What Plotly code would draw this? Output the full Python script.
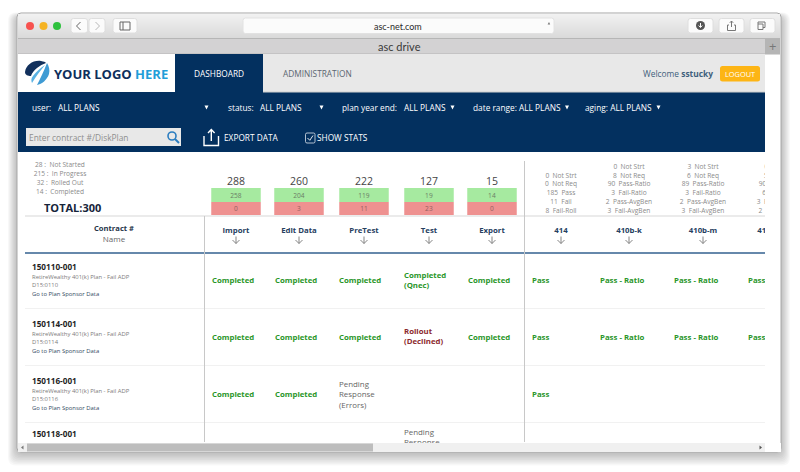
import plotly.graph_objects as go

FONT = "Open Sans"
NAVY = "#03305f"
GREEN = "#2a962a"
RED = "#8c2a2e"
GREY = "#8a8a8a"

# summary block
summary_counts = ["28 :", "215 :", "32 :", "14 :"]
summary_labels = ["Not Started", "In Progress", "Rolled Out", "Completed"]

# workflow steps
steps = ["Import", "Edit Data", "PreTest", "Test", "Export"]
step_totals = [288, 260, 222, 127, 15]
step_pass = [258, 204, 119, 19, 14]
step_fail = [0, 3, 11, 23, 0]

# compliance tests
tests = ["414", "410b-k", "410b-m", "410b-o"]
test_stats = [
    ["0  Not Strt", "0  Not Req", "185  Pass", "11  Fail", "8  Fail-Roll"],
    ["0  Not Strt", "8  Not Req", "90  Pass-Ratio", "3  Fail-Ratio", "2  Pass-AvgBen", "3  Fail-AvgBen"],
    ["3  Not Strt", "6  Not Req", "89  Pass-Ratio", "3  Fail-Ratio", "2  Pass-AvgBen", "3  Fail-AvgBen"],
    ["0  Not Strt", "5  Not Req", "90  Pass-Ratio", "6  Fail-Ratio", "3  Pass-AvgBen", "2  Fail-AvgBen"],
]

# table rows
contracts = ["150110-001", "150114-001", "150116-001", "150118-001"]
disk_plans = ["D15:0110", "D15:0114", "D15:0116"]
plan_name = "RetireWealthy 401(k) Plan - Fail ADP"
C = "Completed"
PE = "Pending<br>Response<br>(Errors)"
step_status = [
    [C, C, C, "Completed<br>(Qnec)", C],
    [C, C, C, "Rollout<br>(Declined)", C],
    [C, C, PE, "", ""],
    ["", "", "", PE, ""],
]
test_status = [
    ["Pass", "Pass - Ratio", "Pass - Ratio", "Pass - Ratio"],
    ["Pass", "Pass - Ratio", "Pass - Ratio", "Pass - Ratio"],
    ["Pass", "", "", ""],
    ["", "", "", ""],
]

# layout, in screen pixels
step_centers = [236, 299, 364, 429, 492]
step_lefts = [212, 275, 339, 404, 468]
test_centers = [561, 629, 703, 780]
test_heads = [561, 629, 703, 770]
test_lefts = [532, 600, 674, 748]
row_tops = [268, 325, 382, 435]
row_mids = [281, 338, 395, 443]

fig = go.Figure()
# keeps the full-window axes alive, all the chrome shapes hang off them
fig.add_trace(go.Scatter(x=[], y=[], hoverinfo="skip", showlegend=False))
shapes = []
notes = []


def rect(x0, y0, x1, y1, color, line=None):
    shapes.append(dict(type="rect", x0=x0, y0=y0, x1=x1, y1=y1, fillcolor=color, layer="below",
                       line=dict(color=line or color, width=1 if line else 0)))


def hline(x0, x1, y, color, width=1):
    shapes.append(dict(type="line", x0=x0, x1=x1, y0=y, y1=y, layer="below", line=dict(color=color, width=width)))


def vline(x, y0, y1, color, width=1):
    shapes.append(dict(type="line", x0=x, x1=x, y0=y0, y1=y1, layer="below", line=dict(color=color, width=width)))


def path(d, fill="rgba(0,0,0,0)", line=None, width=1):
    shapes.append(dict(type="path", path=d, fillcolor=fill, layer="below",
                       line=dict(color=line or fill, width=width if line else 0)))


def rounded(x0, y0, x1, y1, r):
    return (f"M{x0+r},{y0} L{x1-r},{y0} Q{x1},{y0} {x1},{y0+r} L{x1},{y1-r} Q{x1},{y1} {x1-r},{y1} "
            f"L{x0+r},{y1} Q{x0},{y1} {x0},{y1-r} L{x0},{y0+r} Q{x0},{y0} {x0+r},{y0} Z")


def note(x, y, text, size=9, color="#ffffff", anchor="left", family=FONT):
    # annotations pad their box, so left aligned ones sit 2px too far right otherwise
    notes.append(dict(x=x - 2 if anchor == "left" else x, y=y, xref="x", yref="y", text=text, showarrow=False,
                      xanchor=anchor, yanchor="middle", align=anchor,
                      font=dict(family=family, size=size, color=color)))


def label(x, y, text, size=8, color="#555555", pos="middle center"):
    # goes on the clipped page axes so it gets cut at the scrollbars
    fig.add_trace(go.Scatter(x=[x], y=[y], mode="text", text=[text], textposition=pos, xaxis="x2", yaxis="y2",
                             textfont=dict(family=FONT, size=size, color=color),
                             hoverinfo="skip", showlegend=False))


# window shadow
for i in range(9):
    grow = 9 - i
    path(rounded(17 - grow, 17 - grow * 0.5, 781 + grow, 453 + grow * 1.4, 8), fill="rgba(0,0,0,0.028)")

# window chrome
path(rounded(17, 13, 781, 452, 4), fill="#ffffff", line="#a8a8a8")
for k in range(24):
    shade = 241 - k
    rect(18, 14 + k, 780, 15 + k, f"rgb({shade},{shade},{shade})")
rect(18, 38, 780, 54, "#d3d2d3")
hline(18, 780, 38.5, "#b6b6b6")
hline(18, 780, 54, "#b4b4b4")
rect(765, 39, 780, 54, "#b5b5b5")
note(772.5, 46, "+", 13, "#777777", "center")
note(399, 46, "asc drive", 11, "#3a3a3a", "center", "Lato")

for cx, col in zip([30, 43.5, 57], ["#f7524f", "#f5b323", "#2ec13d"]):
    shapes.append(dict(type="circle", x0=cx - 4, x1=cx + 4, y0=22, y1=30, fillcolor=col, layer="below",
                       line=dict(width=0)))
for x0, x1 in [(71, 87.5), (89, 105), (113, 137), (688, 713), (719, 744), (750, 775)]:
    path(rounded(x0, 18.5, x1, 33, 2.5), fill="#fbfbfb", line="#dedede")
path("M80.5,22 L76.5,26 L80.5,30", line="#666666", width=1)
path("M95.5,22 L99.5,26 L95.5,30", line="#b8b8b8", width=1)
path("M120,22 L130,22 L130,30 L120,30 Z M123,22 L123,30", line="#666666", width=1)
shapes.append(dict(type="circle", x0=696, x1=705, y0=21, y1=30, fillcolor="#555555", layer="below",
                   line=dict(width=0)))
path("M700.5,23 L700.5,27 M698.7,25.5 L700.5,27.5 L702.3,25.5", line="#ffffff", width=1)
path("M729,25 L727.5,25 L727.5,30.5 L735.5,30.5 L735.5,25 L734,25 M731.5,27 L731.5,21 M729.8,22.8 L731.5,21 L733.2,22.8",
     line="#777777", width=1)
path("M758,24 L758,22 L765,22 L765,27.5 L763,27.5 M758,24 L763,24 L763,29.5 L758,29.5 Z", line="#777777", width=1)
path(rounded(243, 18, 554, 33.5, 2.5), fill="#fbfbfb", line="#e2e2e2")
note(398, 26, "asc-net.com", 9, "#2a2a2a", "center", "Lato")
path("M550,24 A3.6,3.6 0 1 0 549,29", line="#777777", width=0.8)
path("M549,22 L550.2,24.6 L547.6,24.4 Z", fill="#777777")

# page header
rect(18, 54, 175, 92, "#ffffff")
rect(175, 54, 263, 92, NAVY)
rect(263, 54, 765, 92, "#e8e8e8")
rect(18, 92, 765, 152, NAVY)
hline(263, 765, 92, "#cfcfcf")
path("M25,72 C26,65 33,60 41,61 C44,61.5 45,62 46,63 C40,65 33,70 31,76 C28,76 25,75 25,72 Z", fill="#12305c")
path("M47,63 C49,66 50,70 49,74 C47,80 42,84 37,85 C40,79 44,71 47,63 Z", fill="#3f9bd4")
path("M45,65 C41,70 36,76 32,83 C31,81 31,78 33,76 C36,72 40,68 45,65 Z", fill="#5ab2e3")
note(54, 73.5, "<b>YOUR LOGO <span style='color:#1f9ed9'>HERE</span></b>", 13, "#0e2f5c")
note(219, 73.5, "DASHBOARD", 8.3, "#ffffff", "center")
note(317, 73.5, "ADMINISTRATION", 8.3, "#5b6670", "center")
note(642.5, 73.5, "Welcome <b>sstucky</b>", 8.4, "#3e5f7c")
path(rounded(720, 66, 760, 81.5, 2.5), fill="#fdb515")
note(740, 73.5, "LOGOUT", 7.4, "#ffffff", "center")

# filter row
note(32, 107.5, "user:", 8.3)
note(57.5, 107.5, "ALL PLANS", 8.3)
note(228, 107.5, "status:", 8.3)
note(260, 107.5, "ALL PLANS", 8.3)
note(342, 107.5, "plan year end:", 8.3)
note(403.5, 107.5, "ALL PLANS", 8.3)
note(473, 107.5, "date range: ALL PLANS", 8.3)
note(585, 107.5, "aging: ALL PLANS", 8.3)
for tx in [206.5, 321.5, 452.5, 567, 658.5]:
    path(f"M{tx-2},105.5 L{tx+2},105.5 L{tx},109.5 Z", fill="#ffffff")

# search and export row
rect(26, 128, 181, 146, "#e8e8e8")
note(29, 137.3, "Enter contract #/DiskPlan", 8.4, "#8f8f8f")
shapes.append(dict(type="circle", x0=168, x1=176, y0=132, y1=140, layer="below",
                   fillcolor="rgba(0,0,0,0)", line=dict(color="#2b7dc0", width=1.6)))
path("M175,139 L179,143", line="#2b7dc0", width=2)
path("M204,136 L204,145.5 L218.5,145.5 L218.5,136 M211.3,141 L211.3,130 M208,133 L211.3,129.5 L214.6,133",
     line="#ffffff", width=1.4)
note(224, 137.3, "EXPORT DATA", 8.3)
path(rounded(305.5, 133, 315, 143, 1.5), line="#dfe6ee", width=0.8)
path("M307.5,138 L309.8,140.3 L313,135.5", line="#ffffff", width=0.9)
note(317, 137.3, "SHOW STATS", 8.3)

# left summary
for i, (num, name) in enumerate(zip(summary_counts, summary_labels)):
    label(60, 165.7 + i * 8.95, num + "\u00a0\u00a0" + name, 6.6, GREY)
label(44, 209, "<b>TOTAL:300</b>", 11, "#16243a", "middle right")

# step totals, with the tiles drawn as bars
fig.add_trace(go.Bar(x=step_centers, y=[14] * 5, base=188, width=49.5, marker=dict(color="#a6eaa0", line_width=0),
                     text=step_pass, textposition="inside", insidetextanchor="middle", xaxis="x2", yaxis="y2",
                     textangle=0, constraintext="none",
                     textfont=dict(family=FONT, size=6.6, color="#6b7d66"), hoverinfo="skip", showlegend=False))
fig.add_trace(go.Bar(x=step_centers, y=[13] * 5, base=202, width=49.5, marker=dict(color="#ee9190", line_width=0),
                     text=step_fail, textposition="inside", insidetextanchor="middle", xaxis="x2", yaxis="y2",
                     textangle=0, constraintext="none",
                     textfont=dict(family=FONT, size=6.6, color="#94605f"), hoverinfo="skip", showlegend=False))
for cx, total in zip(step_centers, step_totals):
    label(cx, 182, str(total), 10.5, "#444444")

# test stats, bottom aligned above the divider
for cx, lines in zip(test_centers, test_stats):
    for j, line in enumerate(reversed(lines)):
        label(cx, 211.3 - j * 8.85, line.replace("  ", "\u00a0\u00a0"), 6.6, GREY)

# table rules
hline(25, 765, 216, "#ebebeb", 2)
hline(25, 765, 253, "#33608f", 1.6)
for ry in [308.5, 365.5, 422.5]:
    hline(25, 765, ry, "#f1f1f1", 1)
vline(204.5, 216, 442, "#c8c8c8")
vline(524.5, 161, 442, "#c8c8c8")

# column headings
label(114, 229.5, "<b>Contract #</b>", 7.6, "#26354a")
label(114, 240, "Name", 8, "#666666")
for cx, name in zip(step_centers + test_heads, steps + tests):
    label(cx, 231, "<b>" + name + "</b>", 7.8, "#26405f")
    if cx < 765:
        path(f"M{cx},236.5 L{cx},243.5 M{cx-3.5},240 L{cx},243.5 L{cx+3.5},240", line="#777777", width=0.9)

# rows, the last one is cut by the scrollbar below its contract number
for i, contract in enumerate(contracts):
    top = row_tops[i]
    label(32, top, "<b>" + contract + "</b>", 8.2, "#1f1f1f", "middle right")
    if i < len(disk_plans):
        label(32, top + 9.5, plan_name, 5.9, "#7c7c7c", "middle right")
        label(32, top + 18, disk_plans[i], 5.9, "#7c7c7c", "middle right")
        label(32, top + 26.5, "Go to Plan Sponsor Data", 5.9, "#334a63", "middle right")

    for lefts, values in [(step_lefts, step_status[i]), (test_lefts, test_status[i])]:
        for x, val in zip(lefts, values):
            if val == "":
                continue
            if val.startswith("Pending"):
                label(x, row_mids[i] + 0.5, val, 7.9, "#666666", "middle right")
            elif val.startswith("Rollout"):
                label(x, row_mids[i] - 1, "<b>" + val.replace("<br>", "</b><br><b>") + "</b>", 7.8, RED, "middle right")
            else:
                label(x, row_mids[i], "<b>" + val.replace("<br>", "</b><br><b>") + "</b>", 7.8, GREEN, "middle right")

# scrollbar
rect(18, 443, 780, 452, "#f0f0f0")
rect(27, 443.5, 373, 451.5, "#bdbdbd")
path("M23.5,445.5 L21,447.5 L23.5,449.5 Z", fill="#777777")
path("M759.5,445.5 L762,447.5 L759.5,449.5 Z", fill="#555555")
rect(765, 443, 781, 452, "#ffffff")

fig.update_layout(
    width=800, height=472, margin=dict(l=0, r=0, t=0, b=0),
    paper_bgcolor="#ffffff", plot_bgcolor="rgba(0,0,0,0)",
    barmode="overlay", showlegend=False, shapes=shapes, annotations=notes,
    xaxis=dict(range=[0, 800], domain=[0, 1], visible=False, fixedrange=True),
    yaxis=dict(range=[472, 0], domain=[0, 1], visible=False, fixedrange=True),
    xaxis2=dict(range=[0, 765], domain=[0, 765 / 800], visible=False, fixedrange=True, anchor="y2"),
    yaxis2=dict(range=[443, 152], domain=[(472 - 443) / 472, (472 - 152) / 472], visible=False, fixedrange=True,
                anchor="x2"),
)
for shape in fig.layout.shapes:
    shape.xref = "x"
    shape.yref = "y"

fig.write_html("out.html", config=dict(displayModeBar=False),
               post_script="document.body.style.margin='0';document.body.style.overflow='hidden';")
